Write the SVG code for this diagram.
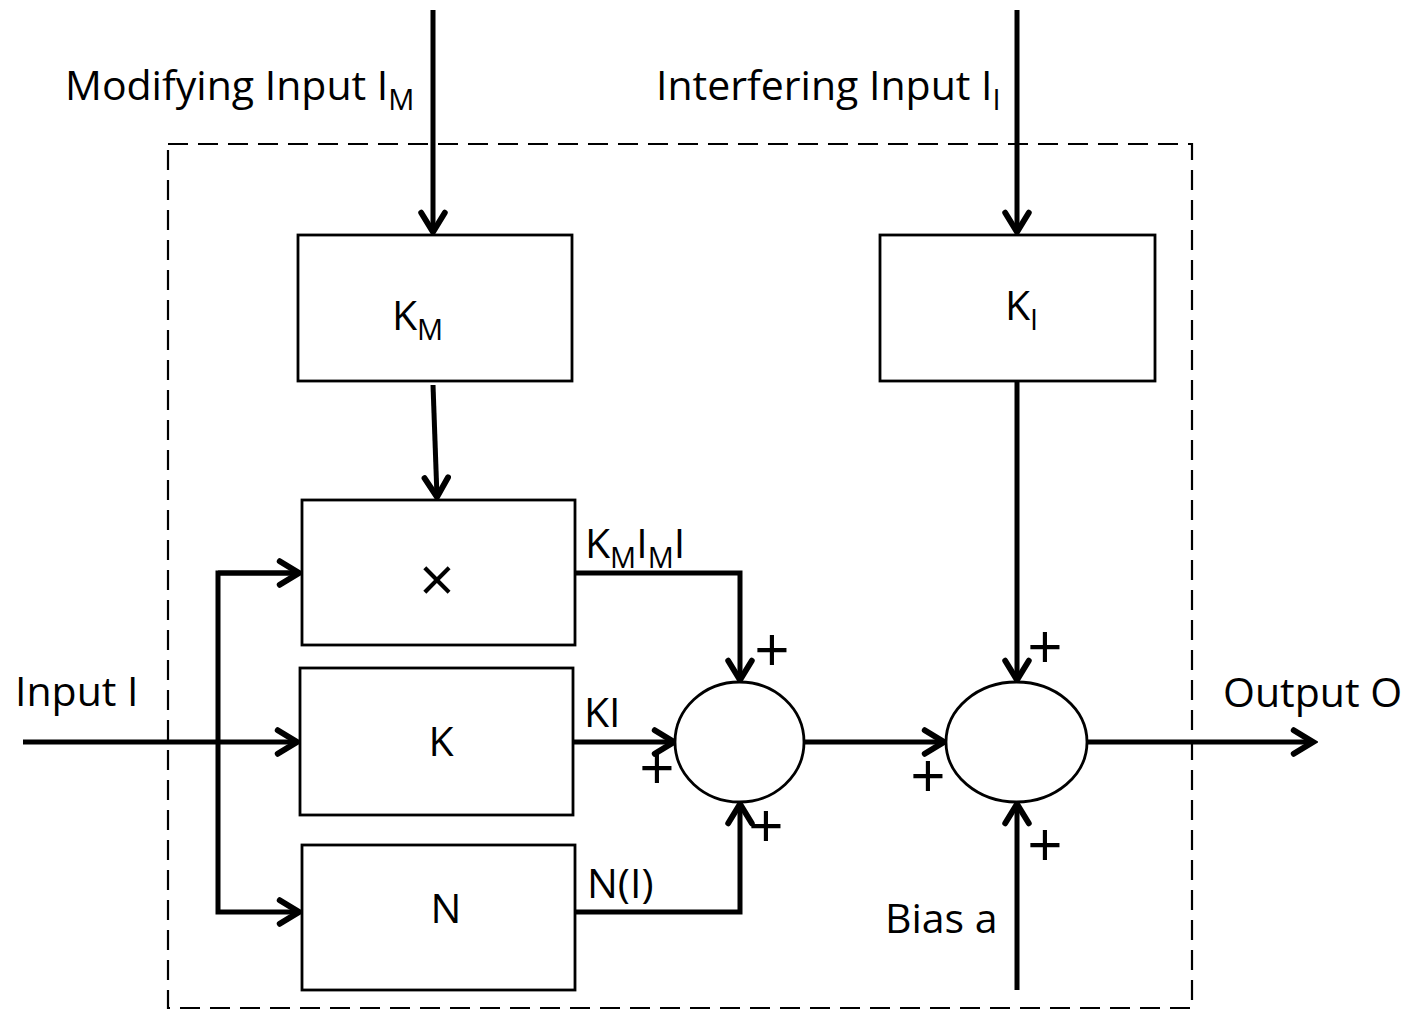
<svg xmlns="http://www.w3.org/2000/svg" width="1410" height="1011" viewBox="0 0 1410 1011">
<defs>
<style>
text{font-family:"Open Sans","Liberation Sans",sans-serif;font-size:41px;fill:#000}
.sub{font-size:29px}
.box{fill:#fff;stroke:#000;stroke-width:2.8}
.sum{fill:#fff;stroke:#000;stroke-width:2.8}
.ln{fill:none;stroke:#000;stroke-width:5}
.dash{fill:none;stroke:#000;stroke-width:2.2;stroke-dasharray:20 10}
.pl{font-size:62px}
</style>
<marker id="ah" markerUnits="userSpaceOnUse" markerWidth="30" markerHeight="30" viewBox="-22 -14 26 28" refX="0" refY="0" orient="auto">
<path d="M-18,-11 L0,0 L-18,11" fill="none" stroke="#000" stroke-width="5.5" stroke-linecap="round" stroke-linejoin="miter"/>
</marker>
</defs>
<rect width="1410" height="1011" fill="#fff"/>
<rect id="boundary" class="dash" x="168" y="144" width="1024" height="864"/>
<g id="connectors">
<line class="ln" x1="433" y1="10" x2="433" y2="232" marker-end="url(#ah)"/>
<line class="ln" x1="1017" y1="10" x2="1017" y2="232" marker-end="url(#ah)"/>
<line class="ln" x1="433" y1="385" x2="437" y2="497" marker-end="url(#ah)"/>
<line class="ln" x1="23" y1="742" x2="297" y2="742" marker-end="url(#ah)"/>
<polyline class="ln" points="299,573 218,573 218,912 299,912" marker-end="url(#ah)"/>
<line class="ln" x1="218" y1="573" x2="299" y2="573" marker-end="url(#ah)"/>
<polyline class="ln" points="575,573 740,573 740,680" marker-end="url(#ah)"/>
<line class="ln" x1="573" y1="742" x2="674" y2="742" marker-end="url(#ah)"/>
<polyline class="ln" points="575,912 740,912 740,804" marker-end="url(#ah)"/>
<line class="ln" x1="804" y1="742" x2="944" y2="742" marker-end="url(#ah)"/>
<line class="ln" x1="1017" y1="381" x2="1017" y2="680" marker-end="url(#ah)"/>
<line class="ln" x1="1017" y1="990" x2="1017" y2="804" marker-end="url(#ah)"/>
<line class="ln" x1="1087" y1="742" x2="1313" y2="742" marker-end="url(#ah)"/>
</g>
<g id="km">
<rect class="box" x="298" y="235" width="274" height="146"/>
<text x="392" y="330">K<tspan class="sub" dy="10">M</tspan></text>
</g>
<g id="ki">
<rect class="box" x="880" y="235" width="275" height="146"/>
<text x="1005" y="320">K<tspan class="sub" dy="10">I</tspan></text>
</g>
<g id="mult">
<rect class="box" x="302" y="500" width="273" height="145"/>
<text class="pl" x="437" y="602" text-anchor="middle">×</text>
</g>
<g id="k">
<rect class="box" x="300" y="668" width="273" height="147"/>
<text x="441" y="756" text-anchor="middle">K</text>
</g>
<g id="n">
<rect class="box" x="302" y="845" width="273" height="145"/>
<text x="446" y="923" text-anchor="middle">N</text>
</g>
<g id="sum1">
<ellipse class="sum" cx="739.5" cy="742" rx="64.5" ry="60"/>
</g>
<g id="sum2">
<ellipse class="sum" cx="1016.5" cy="742" rx="70.5" ry="60"/>
</g>
<g id="labels">
<text x="65" y="100">Modifying Input I<tspan class="sub" dy="10">M</tspan></text>
<text x="656" y="100">Interfering Input I<tspan class="sub" dy="10">I</tspan></text>
<text x="585" y="558">K<tspan class="sub" dy="10">M</tspan><tspan dy="-10">I</tspan><tspan class="sub" dy="10">M</tspan><tspan dy="-10">I</tspan></text>
<text x="584" y="727">KI</text>
<text x="587" y="898">N(I)</text>
<text x="15" y="706">Input I</text>
<text x="1223" y="707">Output O</text>
<text x="885" y="933">Bias a</text>
<text class="pl" x="772" y="672" text-anchor="middle">+</text>
<text class="pl" x="657" y="790" text-anchor="middle">+</text>
<text class="pl" x="766" y="848" text-anchor="middle">+</text>
<text class="pl" x="1045" y="669" text-anchor="middle">+</text>
<text class="pl" x="928" y="798" text-anchor="middle">+</text>
<text class="pl" x="1045" y="867" text-anchor="middle">+</text>
</g>
</svg>
